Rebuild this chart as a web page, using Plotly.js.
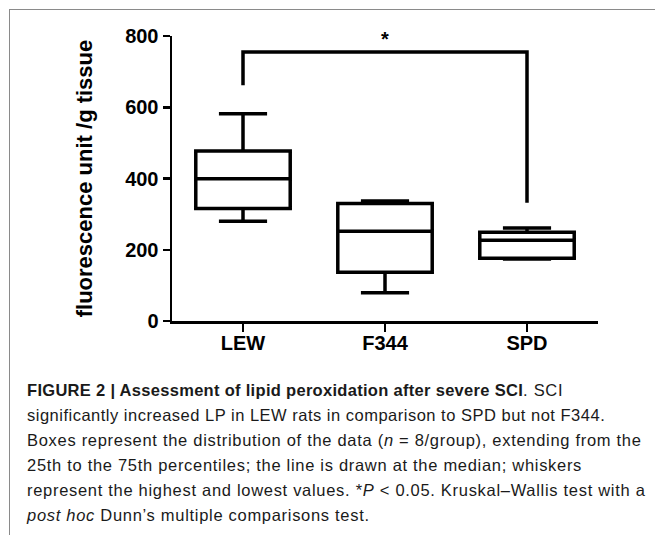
<!DOCTYPE html>
<html>
<head>
<meta charset="utf-8">
<script src="https://cdn.plot.ly/plotly-3.0.1.min.js"></script>
<style>
  html, body { margin: 0; padding: 0; background: #fff; }
  body { width: 655px; height: 535px; position: relative; overflow: hidden; }
  #frame { position: absolute; left: 9px; top: 9px; width: 700px; height: 600px; border: 1px solid #8a8a8a; box-sizing: border-box; }
  #chart { position: absolute; left: 0; top: 0; width: 655px; height: 535px; }
  #caption { position: absolute; left: 27px; top: 378px; width: 640px; font-family: "Liberation Sans", Arial, sans-serif; font-size: 16.5px; line-height: 25px; letter-spacing: 0.7px; color: #1a1a1a; white-space: nowrap; }
  #caption b { letter-spacing: 0.3px; }
  #caption .l2 { letter-spacing: 0.5px; }
</style>
</head>
<body>
<div id="frame"></div>
<div id="chart"></div>
<div id="caption">
<b>FIGURE 2 | Assessment of lipid peroxidation after severe SCI</b>. SCI<br>
<span class="l2">significantly increased LP in LEW rats in comparison to SPD but not F344.</span><br>
Boxes represent the distribution of the data (<i>n</i> = 8/group), extending from the<br>
25th to the 75th percentiles; the line is drawn at the median; whiskers<br>
represent the highest and lowest values. *<i>P</i> &lt; 0.05. Kruskal–Wallis test with a<br>
<i>post hoc</i> Dunn’s multiple comparisons test.
</div>
<script>
// Data
const groups = ['LEW', 'F344', 'SPD'];
const minVals = [280, 79, 174];
const q1Vals = [316, 137, 176];
const medianVals = [399, 252, 227];
const q3Vals = [477, 330, 249];
const maxVals = [582, 337, 261];

// Significance bracket LEW vs SPD
const bracketX = ['LEW', 'LEW', 'SPD', 'SPD'];
const bracketY = [662, 755, 755, 332];
const starLabel = '*';
const starX = 'F344';
const starY = 791;

const yTicks = [0, 200, 400, 600, 800];

const font = 'Liberation Sans, Arial, sans-serif';

const traces = [
  {
    type: 'box',
    x: groups,
    q1: q1Vals,
    median: medianVals,
    q3: q3Vals,
    lowerfence: minVals,
    upperfence: maxVals,
    boxpoints: false,
    width: 0.665,
    whiskerwidth: 0.51,
    fillcolor: 'rgba(255,255,255,0)',
    line: { color: '#000', width: 3.5 },
    hoverinfo: 'skip',
    showlegend: false
  },
  {
    type: 'scatter',
    mode: 'lines',
    x: bracketX,
    y: bracketY,
    line: { color: '#000', width: 3.5 },
    hoverinfo: 'skip',
    showlegend: false,
    cliponaxis: false
  }
];

const layout = {
  width: 655,
  height: 535,
  margin: { l: 172, r: 57, t: 36, b: 214 },
  paper_bgcolor: 'rgba(0,0,0,0)',
  plot_bgcolor: 'rgba(0,0,0,0)',
  showlegend: false,
  xaxis: {
    type: 'category',
    categoryorder: 'array',
    categoryarray: groups,
    range: [-0.5, 2.5],
    showline: true,
    linecolor: '#000',
    linewidth: 2.5,
    showgrid: false,
    zeroline: false,
    ticks: 'outside',
    ticklen: 8,
    tickwidth: 2.5,
    tickcolor: '#000',
    ticklabelstandoff: -6,
    tickfont: { family: font, size: 20, color: '#000', weight: 'bold' }
  },
  yaxis: {
    range: [0, 800],
    tickvals: yTicks,
    showline: true,
    linecolor: '#000',
    linewidth: 2.5,
    showgrid: false,
    zeroline: false,
    ticks: 'outside',
    ticklen: 7,
    tickwidth: 2.5,
    tickcolor: '#000',
    tickfont: { family: font, size: 20, color: '#000', weight: 'bold' },
    title: {
      text: 'fluorescence unit /g tissue',
      font: { family: font, size: 22, color: '#000', weight: 'bold' },
      standoff: 27
    }
  },
  annotations: [
    {
      x: starX, y: starY, xref: 'x', yref: 'y',
      text: starLabel, showarrow: false,
      font: { family: font, size: 20, color: '#000', weight: 'bold' },
      xanchor: 'center', yanchor: 'middle'
    }
  ]
};

Plotly.newPlot('chart', traces, layout, { displayModeBar: false, staticPlot: true });
</script>
</body>
</html>
